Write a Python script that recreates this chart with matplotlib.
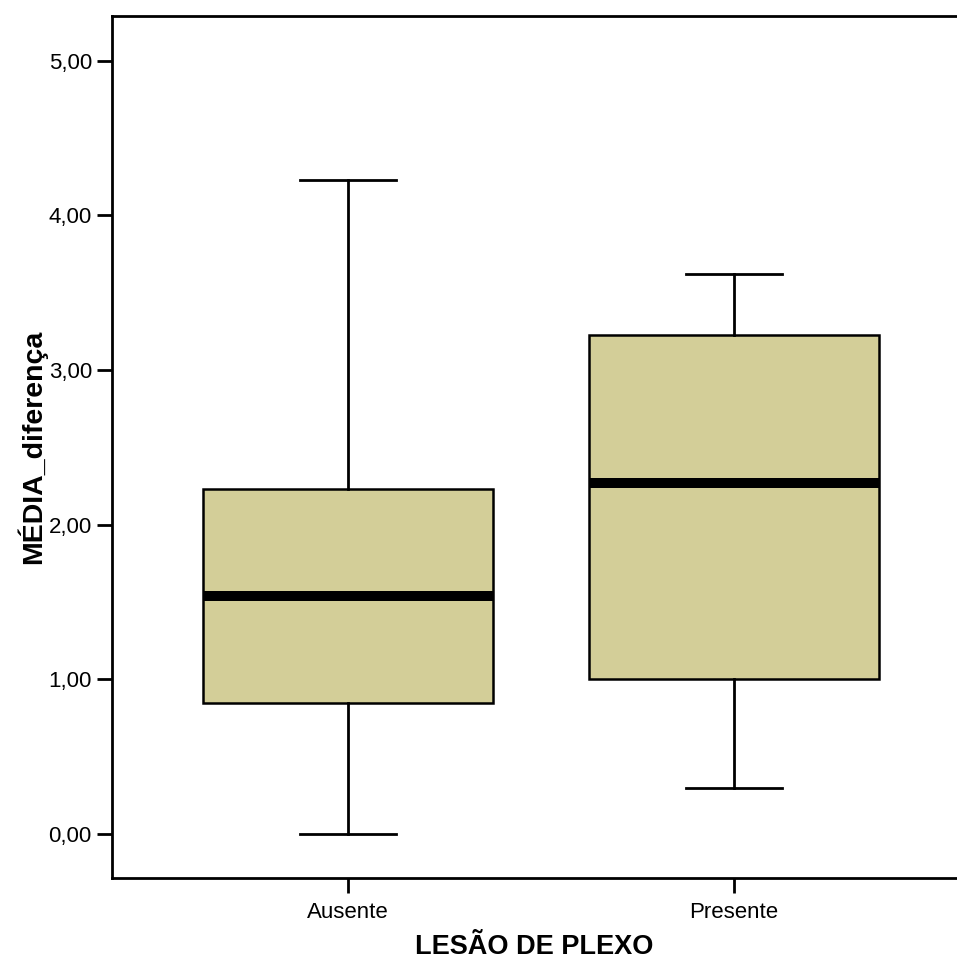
import matplotlib
matplotlib.use("Agg")
import matplotlib.pyplot as plt
from matplotlib.ticker import FixedLocator, FuncFormatter

plt.rcParams['font.family'] = ['Liberation Sans', 'DejaVu Sans']

categories = ["Ausente", "Presente"]
whisker_low = [0.00, 0.30]
q1 = [0.85, 1.00]
median = [1.54, 2.27]
q3 = [2.23, 3.23]
whisker_high = [4.23, 3.62]
yticks = [0, 1, 2, 3, 4, 5]

fig = plt.figure(figsize=(9.57, 9.63), dpi=100)
ax = fig.add_axes([112/957, 1 - 878/963, 1 - 112/957, (878 - 16)/963])

stats = []
for i, c in enumerate(categories):
    stats.append(dict(label=c, whislo=whisker_low[i], q1=q1[i], med=median[i],
                      q3=q3[i], whishi=whisker_high[i], fliers=[]))

ax.bxp(stats, positions=[1, 2], widths=0.749, patch_artist=True,
       showfliers=False,
       boxprops=dict(facecolor='#D3CE98', edgecolor='black', linewidth=1.8),
       medianprops=dict(color='black', linewidth=7.2, solid_capstyle='butt'),
       whiskerprops=dict(color='black', linewidth=2.0),
       capprops=dict(color='black', linewidth=2.0),
       capwidths=0.25)

ax.set_xlim(1 - (348 - 112)/386, 2 + (957 - 734)/386)
ax.set_ylim(-0.284, 5.29)
ax.yaxis.set_major_locator(FixedLocator(yticks))
ax.yaxis.set_major_formatter(FuncFormatter(lambda v, p: f"{v:.2f}".replace('.', ',')))
ax.set_xticks([1, 2])
ax.set_xticklabels(categories)

for s in ['left', 'bottom', 'top']:
    ax.spines[s].set_linewidth(2.0)
ax.spines['right'].set_visible(False)
ax.tick_params(axis='both', direction='out', length=10.5, width=2.0, labelsize=16, colors='black')
ax.tick_params(axis='x', pad=7)
ax.tick_params(axis='y', pad=4)

ax.set_xlabel("LESÃO DE PLEXO", fontsize=19.5, fontweight='bold', labelpad=8)
ax.set_ylabel("MÉDIA_diferença", fontsize=20.5, fontweight='bold', labelpad=1)

fig.savefig("out.png", dpi=100)
